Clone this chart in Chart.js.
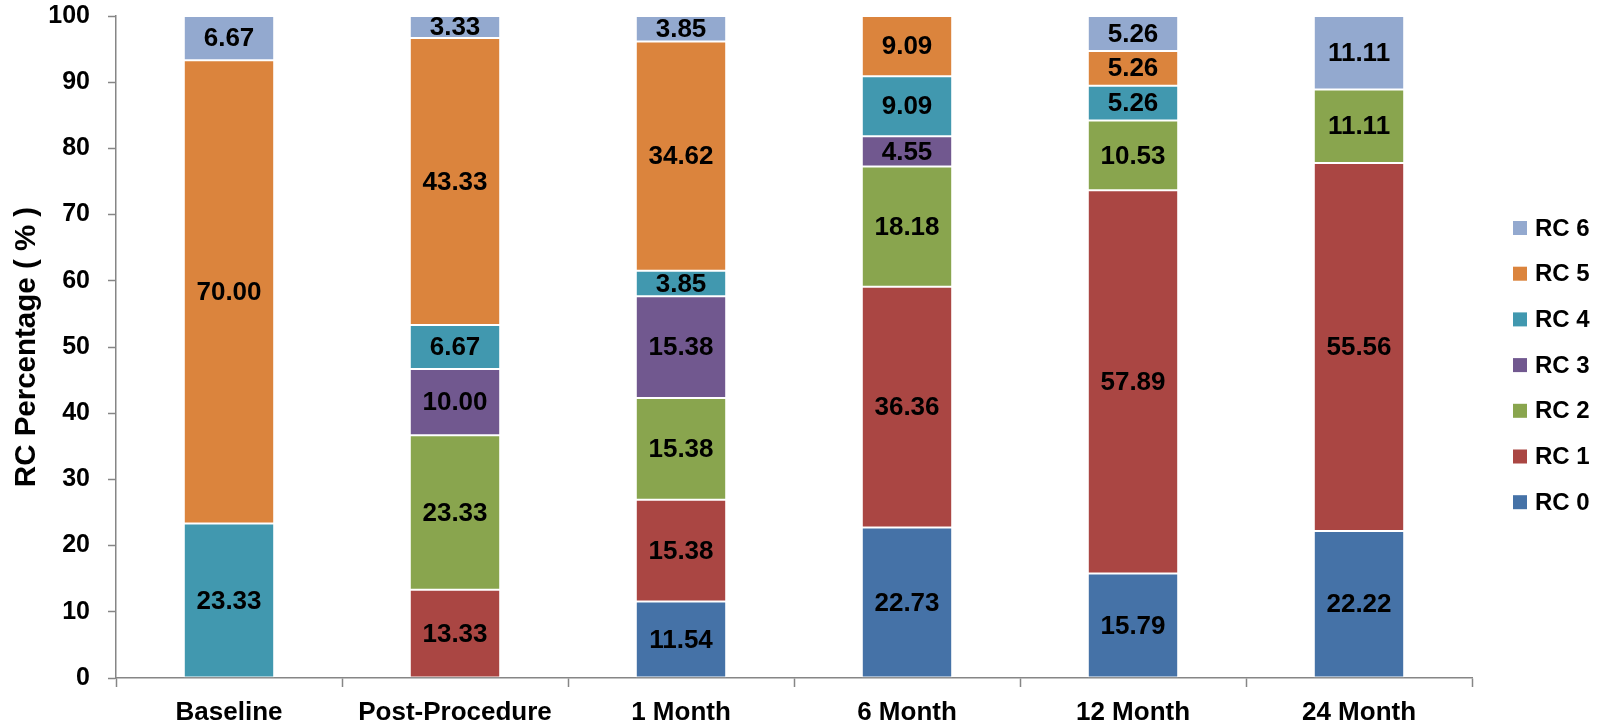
<!DOCTYPE html>
<html>
<head>
<meta charset="utf-8">
<title>RC Percentage by Visit</title>
<script src="https://cdn.jsdelivr.net/npm/chart.js@4.4.1/dist/chart.umd.min.js"></script>
<style>
  html, body { margin: 0; padding: 0; background: #ffffff; }
  #wrap { width: 1608px; height: 724px; position: relative; }
</style>
</head>
<body>
<div id="wrap"><canvas id="c" width="1608" height="724"></canvas></div>
<script>
// Visits along the x axis
const categories = ['Baseline', 'Post-Procedure', '1 Month', '6 Month', '12 Month', '24 Month'];

// Share of subjects (%) in each RC class per visit; null = class not present
const rc0 = [null, null, 11.54, 22.73, 15.79, 22.22];
const rc1 = [null, 13.33, 15.38, 36.36, 57.89, 55.56];
const rc2 = [null, 23.33, 15.38, 18.18, 10.53, 11.11];
const rc3 = [null, 10.00, 15.38, 4.55, null, null];
const rc4 = [23.33, 6.67, 3.85, 9.09, 5.26, null];
const rc5 = [70.00, 43.33, 34.62, 9.09, 5.26, null];
const rc6 = [6.67, 3.33, 3.85, null, 5.26, 11.11];

const seriesNames = ['RC 0', 'RC 1', 'RC 2', 'RC 3', 'RC 4', 'RC 5', 'RC 6'];
const seriesValues = [rc0, rc1, rc2, rc3, rc4, rc5, rc6];
const seriesColors = ['#4572A7', '#AA4643', '#89A54E', '#71588F', '#4198AF', '#DB843D', '#93A9CF'];

// Y axis ticks
const yTicks = [0, 10, 20, 30, 40, 50, 60, 70, 80, 90, 100];

const FONT = '"Liberation Sans", Arial, Helvetica, sans-serif';
const AXIS_GREY = '#868686';

// Value labels centred in each stacked segment
const segmentLabels = {
  id: 'segmentLabels',
  afterDatasetsDraw(chart) {
    const ctx = chart.ctx;
    ctx.save();
    ctx.font = 'bold 26px ' + FONT;
    ctx.fillStyle = '#000000';
    ctx.textAlign = 'center';
    ctx.textBaseline = 'middle';
    chart.data.datasets.forEach((ds, di) => {
      const meta = chart.getDatasetMeta(di);
      meta.data.forEach((bar, i) => {
        const v = ds.data[i];
        if (v === null || v === undefined) return;
        const cy = (bar.y + bar.base) / 2;
        ctx.fillText(v.toFixed(2), bar.x, cy + 1);
      });
    });
    ctx.restore();
  }
};

// Legend column at the right, highest class first
const sideLegend = {
  id: 'sideLegend',
  afterDraw(chart) {
    const ctx = chart.ctx;
    const x0 = 1513, yTop = 228, step = 45.7, box = 14;
    ctx.save();
    ctx.font = 'bold 24px ' + FONT;
    ctx.textAlign = 'left';
    ctx.textBaseline = 'middle';
    const n = chart.data.datasets.length;
    for (let k = 0; k < n; k++) {
      const ds = chart.data.datasets[n - 1 - k];
      const cy = yTop + k * step;
      ctx.fillStyle = ds.backgroundColor;
      ctx.fillRect(x0, cy - box / 2, box, box);
      ctx.fillStyle = '#000000';
      ctx.fillText(ds.label, x0 + 22, cy + 1);
    }
    ctx.restore();
  }
};

new Chart(document.getElementById('c'), {
  type: 'bar',
  data: {
    labels: categories,
    datasets: seriesNames.map((name, i) => ({
      label: name,
      data: seriesValues[i],
      backgroundColor: seriesColors[i],
      borderColor: 'rgba(255,255,255,0.35)',
      borderWidth: 1,
      borderSkipped: false,
      categoryPercentage: 1.0,
      barPercentage: 0.40
    }))
  },
  options: {
    responsive: false,
    animation: false,
    devicePixelRatio: 1,
    layout: { padding: { left: 0, right: 136, top: 16, bottom: 0 } },
    plugins: {
      legend: { display: false },
      tooltip: { enabled: false }
    },
    scales: {
      x: {
        stacked: true,
        grid: {
          offset: true,
          drawOnChartArea: false,
          drawTicks: true,
          tickLength: 9,
          tickColor: AXIS_GREY,
          tickWidth: 1.5
        },
        border: { display: true, color: AXIS_GREY, width: 1.5 },
        ticks: {
          color: '#000000',
          font: { family: FONT, size: 26, weight: 'bold' },
          padding: 10,
          maxRotation: 0,
          autoSkip: false
        },
        afterFit(scale) {
          scale.height = 46;
          scale.paddingLeft = 0;
          scale.paddingRight = 0;
        }
      },
      y: {
        stacked: true,
        min: 0,
        max: 100,
        afterBuildTicks(scale) { scale.ticks = yTicks.map(v => ({ value: v })); },
        grid: {
          drawOnChartArea: false,
          drawTicks: true,
          tickLength: 8,
          tickColor: AXIS_GREY,
          tickWidth: 1.5
        },
        border: { display: true, color: AXIS_GREY, width: 1.5 },
        ticks: {
          color: '#000000',
          font: { family: FONT, size: 25, weight: 'bold' },
          padding: 18
        },
        title: {
          display: true,
          text: 'RC Percentage ( % )',
          color: '#000000',
          font: { family: FONT, size: 29.5, weight: 'bold' },
          padding: { top: 9, bottom: 0 }
        },
        afterFit(scale) {
          scale.width = 116;
          scale.paddingTop = 0;
          scale.paddingBottom = 0;
        }
      }
    }
  },
  plugins: [segmentLabels, sideLegend]
});
</script>
</body>
</html>
